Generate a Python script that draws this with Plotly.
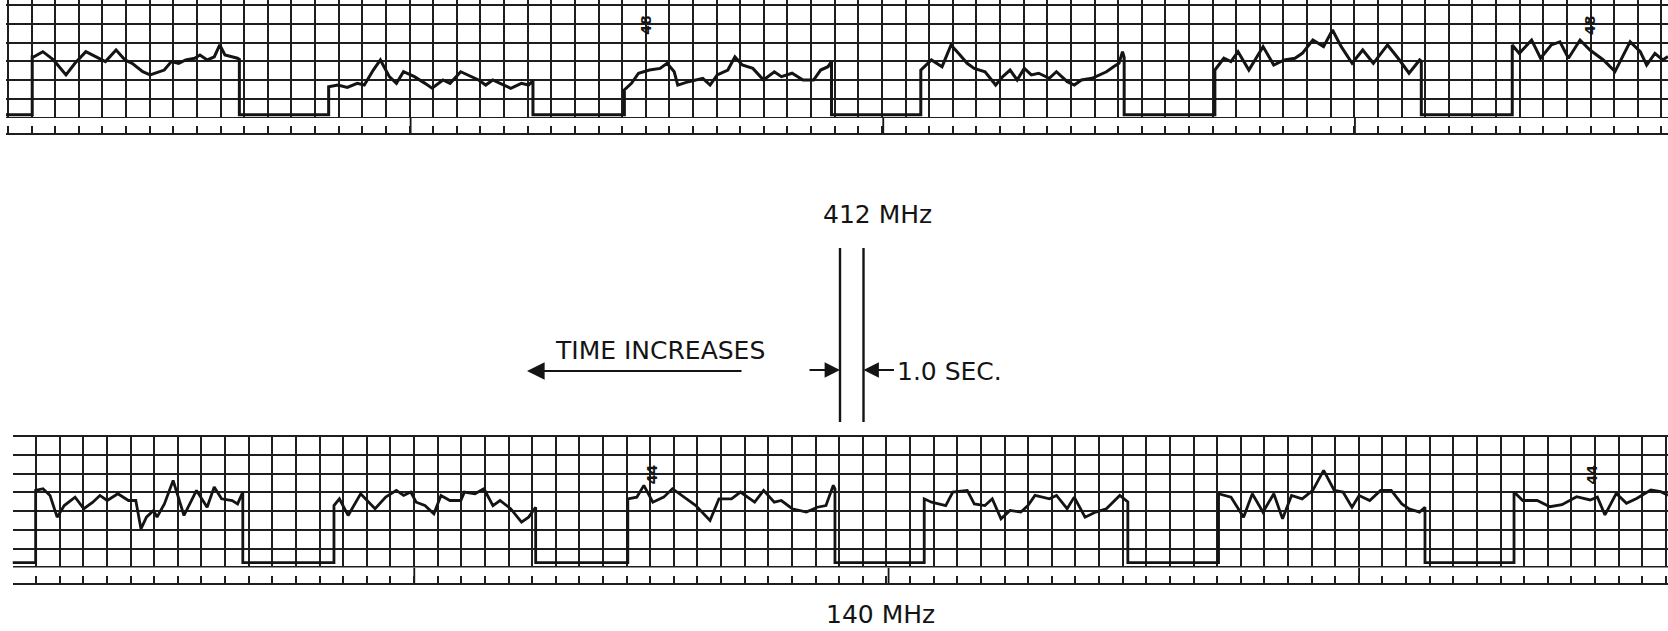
import plotly.graph_objects as go

W, H = 1668, 631
SEC_PX = 23.62  # pixels per grid division (1.0 s)

# ---------------- data: 412 MHz strip (time in s, level in grid divisions) -------------
top_time = [0.0, 1.11, 1.11, 1.18, 1.56, 2.01, 2.54, 2.92, 3.38, 3.83, 4.21, 4.66, 5.04, 5.34,
            5.79, 6.10, 6.70, 7.00, 7.31, 7.61, 7.99, 8.21, 8.52, 8.82, 9.05, 9.27, 9.57, 9.80,
            9.88, 9.88, 13.66, 13.66, 14.05, 14.45, 14.87, 15.17, 15.55, 15.85, 16.23, 16.53,
            16.83, 17.29, 17.74, 18.04, 18.50, 18.80, 19.25, 19.55, 20.01, 20.31, 20.61, 20.92,
            21.37, 21.82, 22.12, 22.27, 22.31, 22.31, 26.18, 26.18, 26.48, 26.78, 27.24, 27.69,
            27.99, 28.29, 28.44, 28.90, 29.20, 29.50, 29.81, 30.11, 30.56, 30.86, 31.17, 31.62,
            32.07, 32.53, 32.83, 33.28, 33.74, 34.19, 34.49, 34.80, 34.90, 34.95, 34.95, 38.73,
            38.73, 39.18, 39.63, 40.01, 40.39, 40.69, 40.99, 41.45, 41.90, 42.20, 42.51, 42.81,
            43.11, 43.41, 43.72, 44.17, 44.47, 44.93, 45.23, 45.53, 45.98, 46.29, 46.59, 46.89,
            47.12, 47.27, 47.34, 47.34, 51.18, 51.18, 51.56, 51.86, 52.16, 52.62, 53.22, 53.67,
            54.12, 54.57, 54.88, 55.33, 55.78, 56.16, 56.53, 56.99, 57.44, 57.89, 58.49, 58.94,
            59.40, 59.85, 59.92, 59.92, 63.77, 63.77, 64.07, 64.59, 64.97, 65.42, 65.79, 66.15,
            66.64, 67.06, 67.63, 68.12, 68.76, 69.19, 69.46, 69.81, 70.14, 70.36]
top_level = [0.15, 0.15, 3.24, 3.24, 3.51, 3.07, 2.27, 2.89, 3.51, 3.24, 2.98, 3.60, 3.07, 2.89,
             2.44, 2.27, 2.53, 2.98, 2.89, 3.07, 3.16, 3.33, 3.07, 3.24, 3.87, 3.33, 3.24, 3.16,
             3.10, 0.15, 0.15, 1.64, 1.73, 1.60, 1.82, 1.73, 2.53, 3.07, 2.18, 1.82,
             2.44, 2.18, 1.82, 1.56, 2.00, 1.82, 2.44, 2.27, 2.00, 1.73, 2.00, 1.82,
             1.56, 1.82, 1.73, 1.91, 1.95, 0.15, 0.15, 1.47, 1.82, 2.36, 2.53, 2.62,
             2.89, 2.44, 1.73, 1.91, 2.00, 2.09, 1.73, 2.27, 2.53, 3.24, 2.80, 2.62,
             2.00, 2.44, 2.18, 2.36, 2.00, 2.00, 2.53, 2.71, 2.89, 2.89, 0.15, 0.15,
             2.53, 3.07, 2.71, 3.87, 3.33, 2.89, 2.62, 2.44, 1.73, 2.18, 2.53, 2.00,
             2.62, 2.27, 2.36, 2.09, 2.44, 1.91, 1.73, 2.00, 2.09, 2.27, 2.44, 2.71,
             2.89, 3.51, 3.20, 0.15, 0.15, 2.53, 3.16, 2.98, 3.51, 2.53, 3.78, 2.80,
             3.07, 3.16, 3.42, 4.13, 3.78, 4.67, 3.78, 2.89, 3.60, 2.89, 3.87, 3.16,
             2.36, 3.07, 3.00, 0.15, 0.15, 3.87, 3.42, 4.13, 3.16, 3.87, 4.04, 3.16,
             4.13, 3.60, 3.07, 2.45, 4.04, 3.51, 2.80, 3.42, 3.07, 3.25]

# ---------------- data: 140 MHz strip -------------
bot_time = [0.0, 0.98, 0.98, 1.29, 1.59, 1.89, 2.19, 2.65, 3.02, 3.40, 3.70, 4.01, 4.46, 4.91,
            5.22, 5.44, 5.67, 5.97, 6.12, 6.43, 6.80, 7.26, 7.79, 8.24, 8.54, 8.85, 9.30, 9.53,
            9.75, 9.75, 13.61, 13.61, 13.84, 14.21, 14.74, 15.35, 15.80, 16.25, 16.56, 16.86,
            17.09, 17.46, 17.84, 18.14, 18.52, 18.98, 19.13, 19.58, 19.96, 20.34, 20.64, 21.09,
            21.55, 21.85, 22.15, 22.15, 26.05, 26.05, 26.43, 26.73, 27.11, 27.57, 27.94, 28.32,
            28.93, 29.53, 29.91, 30.44, 30.82, 31.42, 31.80, 32.25, 32.55, 33.01, 33.61, 34.07,
            34.44, 34.75, 34.82, 34.82, 38.60, 38.60, 38.91, 39.51, 39.81, 40.42, 40.72, 41.17,
            41.48, 41.85, 42.23, 42.69, 42.99, 43.29, 43.90, 44.20, 44.65, 44.95, 45.41, 45.86,
            46.31, 46.88, 47.14, 47.22, 47.22, 51.06, 51.06, 51.59, 52.12, 52.49, 52.94, 53.40,
            53.77, 54.15, 54.60, 55.05, 55.51, 55.96, 56.33, 56.71, 57.01, 57.46, 57.92, 58.37,
            58.82, 59.12, 59.57, 59.80, 59.80, 63.57, 63.57, 63.94, 64.55, 65.09, 65.60, 66.22,
            66.79, 67.10, 67.42, 67.90, 68.33, 68.76, 69.36, 69.78, 70.09]
bot_level = [0.25, 0.25, 4.11, 4.20, 3.84, 2.68, 3.30, 3.75, 3.13, 3.48, 3.84, 3.57, 3.93, 3.57,
             3.57, 2.05, 2.68, 3.04, 2.68, 3.39, 4.64, 2.77, 4.11, 3.21, 4.29, 3.66, 3.57, 3.39,
             4.02, 0.25, 0.25, 3.30, 3.66, 2.77, 3.93, 3.13, 3.75, 4.11, 3.84, 4.02,
             3.48, 3.30, 2.86, 3.84, 3.57, 3.57, 4.02, 3.93, 4.20, 3.30, 3.57, 3.13,
             2.41, 2.68, 3.21, 0.25, 0.25, 3.66, 3.75, 4.38, 3.48, 3.75, 4.20, 3.84,
             3.30, 2.50, 3.66, 3.66, 4.02, 3.48, 4.11, 3.48, 3.57, 3.13, 2.95, 3.21,
             3.30, 4.38, 4.20, 0.25, 0.25, 3.66, 3.48, 3.30, 4.02, 4.11, 3.39, 3.30,
             3.66, 2.59, 3.04, 2.95, 3.30, 3.84, 3.66, 3.84, 3.13, 3.75, 2.68, 2.95,
             3.13, 3.84, 3.57, 3.50, 0.25, 0.25, 3.93, 3.75, 2.68, 3.93, 2.95, 3.93,
             2.59, 3.84, 3.66, 4.11, 5.18, 4.11, 4.02, 3.21, 3.84, 3.57, 4.11, 4.11,
             3.39, 3.13, 2.95, 3.21, 0.25, 0.25, 4.02, 3.57, 3.57, 3.24, 3.35, 3.77,
             3.60, 3.75, 2.80, 3.95, 3.42, 3.68, 4.13, 4.04, 3.85]

# time-marker pen (long ticks on the ruler), seconds
top_marks = [17.13, 37.14, 57.11]
bot_marks = [17.01, 37.09, 57.01]

# small pen annotations written on the chart
top_notes = ["48", "48"]
top_note_time = [27.08, 67.06]
top_note_level = [4.93, 4.93]
bot_notes = ["44", "44"]
bot_note_time = [27.11, 66.91]
bot_note_level = [4.96, 4.96]

# ---------------- geometry (pixels) ----------------
TOP_X0, BOT_X0 = 6.0, 12.5          # pixel of t = 0
TOP_Y0, TOP_DIV = 117.5, 18.75      # pixel of level 0, px per division
BOT_Y0, BOT_DIV = 567.3, 18.71
INK = "#141414"
GRID = "#1e1e1e"


def py(p):
    return 1 - p / H


def px(p):
    return p / W


fig = go.Figure()

fig.add_trace(go.Scatter(x=top_time, y=top_level, mode="lines", xaxis="x", yaxis="y",
                         line=dict(color=INK, width=3.0), hoverinfo="skip", showlegend=False))
fig.add_trace(go.Scatter(x=bot_time, y=bot_level, mode="lines", xaxis="x3", yaxis="y3",
                         line=dict(color=INK, width=2.8), hoverinfo="skip", showlegend=False))


def mark_xy(marks):
    xs, ys = [], []
    for m in marks:
        xs += [m, m, None]
        ys += [0, 1, None]
    return xs, ys


mx, my = mark_xy(top_marks)
fig.add_trace(go.Scatter(x=mx, y=my, mode="lines", xaxis="x2", yaxis="y2",
                         line=dict(color=INK, width=1.8), hoverinfo="skip", showlegend=False))
mx, my = mark_xy(bot_marks)
fig.add_trace(go.Scatter(x=mx, y=my, mode="lines", xaxis="x4", yaxis="y4",
                         line=dict(color=INK, width=1.8), hoverinfo="skip", showlegend=False))

top_xr = [0, (W - TOP_X0) / SEC_PX]
bot_xr = [0, (W - BOT_X0) / SEC_PX]

grid_x = dict(showgrid=True, gridcolor=GRID, gridwidth=1.8, dtick=1, showticklabels=False,
              zeroline=False, ticks="", showline=False, fixedrange=True)
grid_y = dict(showgrid=True, gridcolor=GRID, gridwidth=1.8, dtick=1, tick0=0,
              showticklabels=False, zeroline=False, ticks="", showline=False, fixedrange=True)
ruler_x = dict(showgrid=False, showline=True, linecolor=GRID, linewidth=1.8, ticks="inside",
               ticklen=7, tickwidth=1.6, tickcolor=GRID, dtick=1, showticklabels=False,
               zeroline=False, fixedrange=True)
ruler_y = dict(range=[0, 1], showgrid=False, showticklabels=False, zeroline=False,
               showline=False, ticks="", fixedrange=True)

fig.update_layout(
    width=W, height=H,
    margin=dict(l=0, r=0, t=0, b=0),
    paper_bgcolor="white", plot_bgcolor="white",
    showlegend=False,
    xaxis=dict(domain=[px(TOP_X0), 1], range=top_xr, tick0=0.085, anchor="y", **grid_x),
    yaxis=dict(domain=[py(119), 1], range=[(TOP_Y0 - 119) / TOP_DIV, TOP_Y0 / TOP_DIV],
               anchor="x", **grid_y),
    xaxis2=dict(domain=[px(TOP_X0), 1], range=top_xr, tick0=0.085, anchor="y2", **ruler_x),
    yaxis2=dict(domain=[py(133), py(118)], anchor="x2", **ruler_y),
    xaxis3=dict(domain=[px(BOT_X0), 1], range=bot_xr, tick0=0, anchor="y3", **grid_x),
    yaxis3=dict(domain=[py(569), py(435)],
                range=[(BOT_Y0 - 569) / BOT_DIV, (BOT_Y0 - 435) / BOT_DIV],
                anchor="x3", **grid_y),
    xaxis4=dict(domain=[px(BOT_X0), 1], range=bot_xr, tick0=0, anchor="y4", **ruler_x),
    yaxis4=dict(domain=[py(583), py(567.5)], anchor="x4", **ruler_y),
)

FONT = dict(family="DejaVu Sans, Verdana, sans-serif", color=INK)
ann = []
for txt, t, lv in zip(top_notes, top_note_time, top_note_level):
    ann.append(dict(text="<b>" + txt + "</b>", x=t, y=lv, xref="x", yref="y", showarrow=False,
                    textangle=-90, font=dict(size=14, **FONT)))
for txt, t, lv in zip(bot_notes, bot_note_time, bot_note_level):
    ann.append(dict(text="<b>" + txt + "</b>", x=t, y=lv, xref="x3", yref="y3",
                    showarrow=False, textangle=-90, font=dict(size=14, **FONT)))

ann += [
    dict(text="412 MHz", x=px(878), y=py(214), xref="paper", yref="paper", showarrow=False,
         xanchor="center", yanchor="middle", font=dict(size=25, **FONT)),
    dict(text="140 MHz", x=px(880), y=py(614.5), xref="paper", yref="paper", showarrow=False,
         xanchor="center", yanchor="middle", font=dict(size=25, **FONT)),
    dict(text="TIME INCREASES", x=px(660), y=py(350), xref="paper", yref="paper",
         showarrow=False, xanchor="center", yanchor="middle", font=dict(size=25, **FONT)),
    dict(text="1.0 SEC.", x=px(895), y=py(371), xref="paper", yref="paper", showarrow=False,
         xanchor="left", yanchor="middle", font=dict(size=25, **FONT)),
    # arrows
    dict(text="", x=px(527), y=py(371), xref="paper", yref="paper", showarrow=True,
         ax=216, ay=0, arrowhead=2, arrowsize=1.6, arrowwidth=2.2, arrowcolor=INK, standoff=0),
    dict(text="", x=px(840), y=py(370), xref="paper", yref="paper", showarrow=True,
         ax=-32, ay=0, arrowhead=2, arrowsize=1.4, arrowwidth=2.2, arrowcolor=INK, standoff=0),
    dict(text="", x=px(863.5), y=py(370), xref="paper", yref="paper", showarrow=True,
         ax=32, ay=0, arrowhead=2, arrowsize=1.4, arrowwidth=2.2, arrowcolor=INK, standoff=0),
]
fig.update_layout(annotations=ann)

fig.update_layout(shapes=[
    dict(type="line", xref="paper", yref="paper", x0=px(840), x1=px(840), y0=py(248),
         y1=py(422), line=dict(color=INK, width=2.4)),
    dict(type="line", xref="paper", yref="paper", x0=px(863.5), x1=px(863.5), y0=py(248),
         y1=py(422), line=dict(color=INK, width=2.4)),
])

fig.write_html("out.html")
